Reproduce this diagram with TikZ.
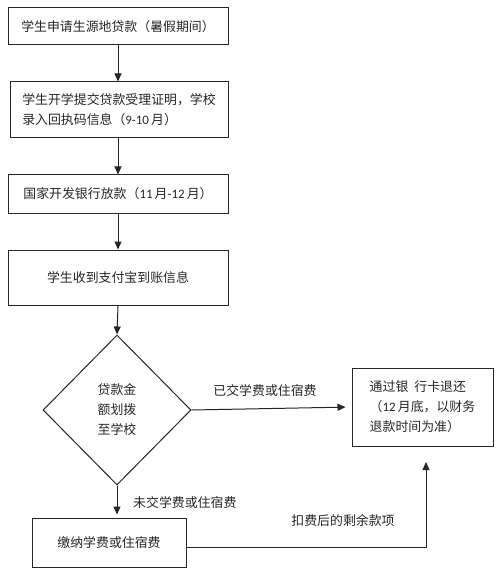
\documentclass[tikz,border=0pt]{standalone}
\usepackage{fontspec}
\setmainfont{Noto Sans CJK SC}
\newfontfamily\lat{Carlito}
\usetikzlibrary{arrows.meta,shapes.geometric,calc}
\tikzset{
  box/.style={draw=black!85, line width=1pt, inner sep=0pt, font=\fontsize{12.9}{20}\selectfont, text=black!85},
  lbl/.style={inner sep=0pt, font=\fontsize{12.9}{20}\selectfont, text=black!85},
  arr/.style={draw=black!85, line width=1pt, -{Triangle[length=8pt,width=7pt]}}
}
\begin{document}
\begin{tikzpicture}[x=1pt,y=-1pt]
\useasboundingbox (0,0) rectangle (500,577);
\node[box, minimum width=220pt, minimum height=37pt] (b1) at (118,26.5) {学生申请生源地贷款（暑假期间）};
\node[box, minimum width=218pt, minimum height=56pt, align=left] (b2) at (119,110) {学生开学提交贷款受理证明，学校\\录入回执码信息（{\lat 9-10}\,月）};
\node[box, minimum width=220pt, minimum height=38pt] (b3) at (118,194) {国家开发银行放款（{\lat 11}\,月{\lat -12}\,月）};
\node[box, minimum width=220pt, minimum height=55pt] (b4) at (118,277.5) {学生收到支付宝到账信息};
\node[box, diamond, minimum width=148pt, minimum height=150pt, align=center] (d) at (117,410) {贷款金\\额划拨\\至学校};
\node[box, minimum width=141pt, minimum height=78pt, align=left] (r) at (422.5,407) {通过银\hspace{6pt}行卡退还\\（{\lat 12}\,月底，以财务\\退款时间为准）};
\node[box, minimum width=154pt, minimum height=49pt] (b5) at (109,542.5) {缴纳学费或住宿费};
\node[lbl] (l1) at (265,391) {已交学费或住宿费};
\node[lbl, anchor=west] (l2) at (133,503) {未交学费或住宿费};
\node[lbl] (l3) at (343,521) {扣费后的剩余款项};
\coordinate (c1) at ($(b5.east)+(0,4.5)$);
\coordinate (c2) at (426,462);
\draw[arr] (b1.south) -- (b1.south |- b2.north);
\draw[arr] (b2.south -| b1.south) -- (b3.north);
\draw[arr] (b3.south) -- (b4.north);
\draw[arr] (b4.south) -- (d.north);
\draw[arr, shorten >=6pt] (d.east) -- (r.west);
\draw[arr, shorten >=3pt] (d.south) -- (d.south |- b5.north);
\draw[arr] (c1) -| (c2);
\end{tikzpicture}
\end{document}
